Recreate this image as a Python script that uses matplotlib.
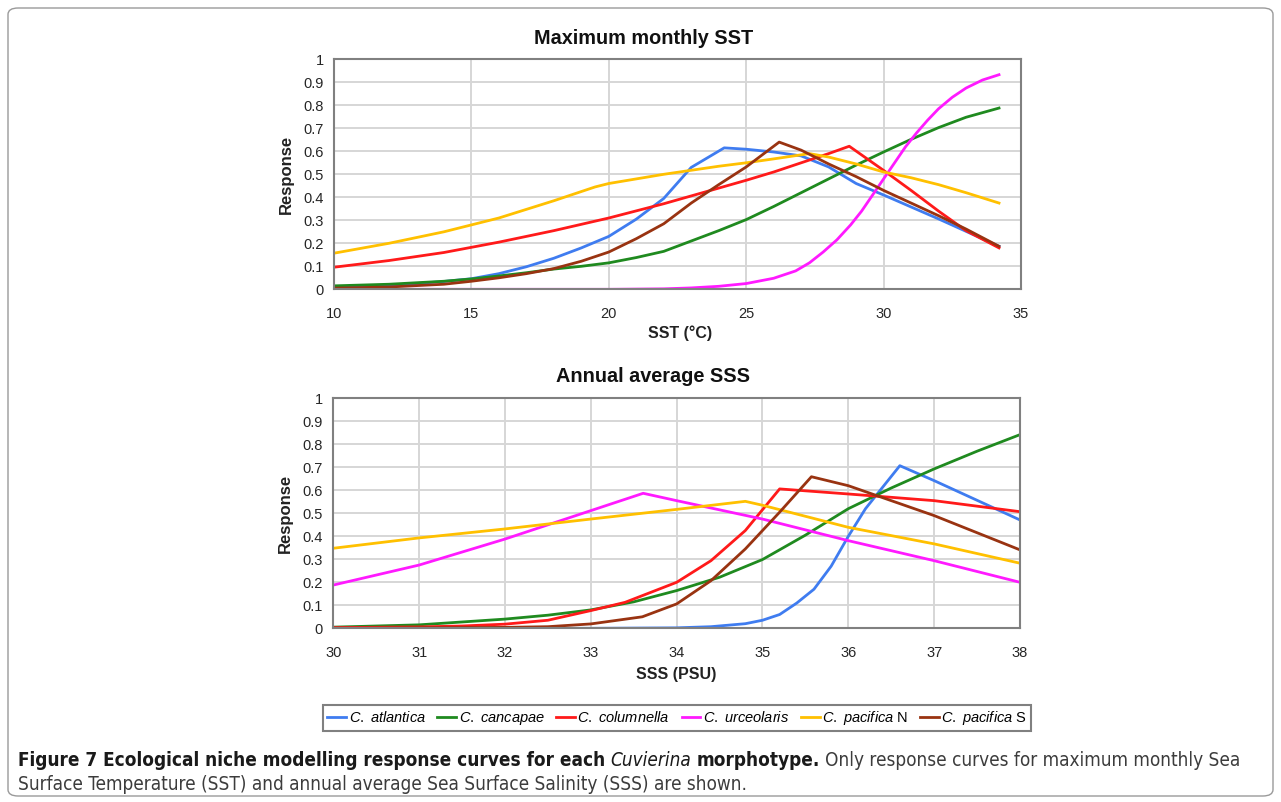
import matplotlib
matplotlib.use('Agg')
import matplotlib.pyplot as plt
from matplotlib.patches import FancyBboxPatch
from matplotlib import font_manager

# ---- datos ----
# SST (maximo mensual)
sst_atl_x = [10, 11, 12, 13, 14, 15, 16, 17, 18, 19, 20, 21, 22, 23, 24.2, 25, 26, 27, 28, 29, 30, 31, 32, 33, 34.2]
sst_atl_y = [0.01, 0.013, 0.018, 0.025, 0.034, 0.046, 0.068, 0.098, 0.135, 0.18, 0.23, 0.305, 0.395, 0.53, 0.615,
             0.609, 0.597, 0.58, 0.532, 0.46, 0.41, 0.358, 0.306, 0.252, 0.187]
sst_can_x = [10, 12, 14, 15, 16, 17, 18, 19, 20, 21, 22, 23, 24, 25, 26, 27, 28, 29, 30, 31, 32, 33, 34.2]
sst_can_y = [0.015, 0.022, 0.035, 0.045, 0.058, 0.072, 0.088, 0.1, 0.115, 0.138, 0.165, 0.21, 0.255, 0.303, 0.36,
             0.42, 0.48, 0.54, 0.597, 0.652, 0.703, 0.748, 0.788]
sst_col_x = [10, 12, 14, 16, 18, 20, 22, 24, 25, 26, 27, 28, 28.75, 30, 31, 32, 33, 34.2]
sst_col_y = [0.096, 0.125, 0.16, 0.205, 0.255, 0.31, 0.372, 0.44, 0.474, 0.51, 0.55, 0.59, 0.622, 0.517, 0.43,
             0.34, 0.255, 0.18]
sst_urc_x = [10, 20, 22, 23, 24, 25, 26, 26.8, 27.3, 27.8, 28.3, 28.8, 29.2, 29.6, 30, 30.4, 30.8, 31.2, 31.6,
             32, 32.5, 33, 33.6, 34.2]
sst_urc_y = [0.0, 0.0, 0.002, 0.006, 0.013, 0.025, 0.048, 0.08, 0.115, 0.162, 0.215, 0.28, 0.34, 0.41, 0.48,
             0.55, 0.62, 0.68, 0.735, 0.785, 0.835, 0.875, 0.91, 0.933]
sst_pacN_x = [10, 12, 14, 16, 18, 19.5, 20, 22, 24, 25, 26, 27.3, 28, 29, 30, 31, 32, 33, 34.2]
sst_pacN_y = [0.157, 0.2, 0.25, 0.31, 0.385, 0.445, 0.46, 0.5, 0.535, 0.55, 0.567, 0.59, 0.575, 0.545, 0.51,
              0.485, 0.455, 0.42, 0.375]
sst_pacS_x = [10, 12, 14, 15, 16, 17, 18, 19, 20, 21, 22, 23, 24, 25, 26.2, 27, 28, 29, 30, 31, 32, 33, 34.2]
sst_pacS_y = [0.005, 0.01, 0.022, 0.035, 0.05, 0.068, 0.09, 0.122, 0.162, 0.22, 0.285, 0.375, 0.455, 0.532, 0.64,
              0.605, 0.545, 0.49, 0.43, 0.375, 0.32, 0.262, 0.187]

# SSS (promedio anual)
sss_atl_x = [30, 33, 34, 34.4, 34.8, 35.0, 35.2, 35.4, 35.6, 35.8, 35.9, 36.0, 36.2, 36.6, 37, 38]
sss_atl_y = [0.0, 0.0, 0.002, 0.007, 0.02, 0.035, 0.06, 0.11, 0.17, 0.27, 0.335, 0.4, 0.52, 0.707, 0.642, 0.471]
sss_can_x = [30, 31, 32, 32.5, 33, 33.5, 34, 34.5, 35, 35.5, 36, 36.5, 37, 37.5, 38]
sss_can_y = [0.005, 0.015, 0.04, 0.057, 0.08, 0.115, 0.164, 0.222, 0.299, 0.405, 0.52, 0.61, 0.693, 0.77, 0.842]
sss_col_x = [30, 31, 31.5, 32, 32.5, 33, 33.4, 34, 34.4, 34.8, 35.2, 36, 37, 38]
sss_col_y = [0.003, 0.006, 0.01, 0.018, 0.035, 0.077, 0.113, 0.2, 0.294, 0.425, 0.606, 0.584, 0.555, 0.507]
sss_urc_x = [30, 31, 32, 33.61, 34, 35, 36, 37, 38]
sss_urc_y = [0.188, 0.275, 0.388, 0.587, 0.555, 0.475, 0.381, 0.294, 0.2]
sss_pacN_x = [30, 31, 32, 33, 34, 34.8, 35, 36, 37, 38]
sss_pacN_y = [0.348, 0.393, 0.432, 0.475, 0.517, 0.552, 0.535, 0.439, 0.367, 0.283]
sss_pacS_x = [30, 31, 32, 32.5, 33, 33.6, 34, 34.4, 34.8, 35.2, 35.57, 36, 37, 38]
sss_pacS_y = [0.0, 0.002, 0.004, 0.007, 0.019, 0.05, 0.106, 0.207, 0.345, 0.505, 0.659, 0.62, 0.49, 0.341]

nombres = ['C. atlantica', 'C. cancapae', 'C. columnella', 'C. urceolaris', 'C. pacifica', 'C. pacifica']
sufijos = ['', '', '', '', ' N', ' S']
colores = ['#3f7cf0', '#1f8a1f', '#ff1a1a', '#ff1aff', '#ffc000', '#993311']

sst_series = [(sst_atl_x, sst_atl_y), (sst_can_x, sst_can_y), (sst_col_x, sst_col_y),
              (sst_urc_x, sst_urc_y), (sst_pacN_x, sst_pacN_y), (sst_pacS_x, sst_pacS_y)]
sss_series = [(sss_atl_x, sss_atl_y), (sss_can_x, sss_can_y), (sss_col_x, sss_col_y),
              (sss_urc_x, sss_urc_y), (sss_pacN_x, sss_pacN_y), (sss_pacS_x, sss_pacS_y)]

y_ticks = [0, 0.1, 0.2, 0.3, 0.4, 0.5, 0.6, 0.7, 0.8, 0.9, 1]
y_labels = ['0', '0.1', '0.2', '0.3', '0.4', '0.5', '0.6', '0.7', '0.8', '0.9', '1']

# ---- fuentes: buscar una variante estrecha si existe ----
fuente_estrecha, estiramiento = 'Liberation Sans', 'normal'
for f in font_manager.fontManager.ttflist:
    if 'Narrow' in f.name or 'Condensed' in f.name:
        fuente_estrecha, estiramiento = f.name, f.stretch
        break
    if str(f.stretch) in ('condensed', 'semi-condensed') and f.name in ('DejaVu Sans', 'Open Sans', 'Roboto', 'Noto Sans'):
        fuente_estrecha, estiramiento = f.name, f.stretch
        break

plt.rcParams['font.family'] = 'Liberation Sans'
plt.rcParams['mathtext.fontset'] = 'custom'
plt.rcParams['mathtext.it'] = 'Liberation Sans:italic'
plt.rcParams['mathtext.rm'] = 'Liberation Sans'

W, H = 1281, 802
fig = plt.figure(figsize=(W / 100, H / 100), dpi=100)


def caja(l, t, r, b):
    # convierte pixeles (origen arriba-izquierda) a fraccion de figura
    return [l / W, 1 - b / H, (r - l) / W, (b - t) / H]


def armar_eje(rect, series, xlim, xticks):
    ax = fig.add_axes(rect)
    for (xs, ys), c in zip(series, colores):
        ax.plot(xs, ys, color=c, lw=2.0)
    ax.set_xlim(*xlim)
    ax.set_ylim(0, 1)
    ax.set_xticks(xticks)
    ax.set_yticks(y_ticks)
    ax.set_yticklabels(y_labels)
    ax.grid(True, color='#d6d6d6', lw=1.4)
    ax.set_axisbelow(True)
    for s in ax.spines.values():
        s.set_color('#808080')
        s.set_linewidth(1.5)
    ax.tick_params(axis='both', length=0, labelsize=10.5, colors='#262626')
    ax.tick_params(axis='x', pad=12.5)
    ax.tick_params(axis='y', pad=7.5)
    return ax


ax1 = armar_eje(caja(334, 59.3, 1021, 289.3), sst_series, (10, 35), [10, 15, 20, 25, 30, 35])
ax1.set_ylabel('Response', fontsize=12, fontweight='bold', color='#222222')
ax1.yaxis.set_label_coords(-0.059, 0.5)
ax1.set_xlabel('SST (°C)', fontsize=11.5, fontweight='bold', color='#222222')
ax1.xaxis.set_label_coords(0.504, -0.155)

ax2 = armar_eje(caja(333.3, 398.3, 1020, 628.3), sss_series, (30, 38), [30, 31, 32, 33, 34, 35, 36, 37, 38])
ax2.set_ylabel('Response', fontsize=12, fontweight='bold', color='#222222')
ax2.yaxis.set_label_coords(-0.059, 0.5)
ax2.set_xlabel('SSS (PSU)', fontsize=11.5, fontweight='bold', color='#222222')
ax2.xaxis.set_label_coords(0.5, -0.168)

fig.text(644 / W, 1 - 39 / H, 'Maximum monthly SST', fontsize=14.3, fontweight='bold',
         ha='center', va='center', color='#111111')
fig.text(653 / W, 1 - 376 / H, 'Annual average SSS', fontsize=14.3, fontweight='bold',
         ha='center', va='center', color='#111111')

# leyenda comun (nombre en cursiva, sufijo N/S normal)
etiquetas = [' '.join(r'$\mathit{' + p + '}$' for p in n.split(' ')) + s for n, s in zip(nombres, sufijos)]
ley = fig.legend(ax1.get_lines(), etiquetas, loc='center', bbox_to_anchor=(677 / W, 1 - 718 / H),
                 ncol=6, prop={'family': 'Liberation Sans', 'size': 10.5},
                 frameon=True, fancybox=False, framealpha=1, edgecolor='#808080',
                 handlelength=1.3, handletextpad=0.15, columnspacing=0.8, borderpad=0.3)
ley.get_frame().set_linewidth(1.5)

# marco redondeado de toda la figura
marco = FancyBboxPatch((8 / W, 6 / H), 1265 / W, 788 / H, boxstyle='round,pad=0,rounding_size=0.008',
                       transform=fig.transFigure, fill=False, edgecolor='#9a9a9a', lw=1.0)
fig.patches.append(marco)

# pie de figura con estilos mezclados
negro, gris = '#1a1a1a', '#3c3c3c'
linea1 = [('Figure 7 Ecological niche modelling response curves for each', 'bold', 'normal', negro),
          ('Cuvierina', 'normal', 'italic', negro),
          ('morphotype.', 'bold', 'normal', negro),
          ('Only response curves for maximum monthly Sea', 'normal', 'normal', gris)]
linea2 = [('Surface Temperature (SST) and annual average Sea Surface Salinity (SSS) are shown.',
           'normal', 'normal', gris)]


def escribir(piezas, x_px, y_px, tam):
    r = fig.canvas.get_renderer()
    hechos = []
    for txt, wt, st, col in piezas:
        t = fig.text(x_px / W, 1 - y_px / H, txt, fontsize=tam, fontweight=wt, fontstyle=st,
                     color=col, family=fuente_estrecha, fontstretch=estiramiento, ha='left', va='center')
        bb = t.get_window_extent(r)
        x_px = bb.x1 + tam * 0.27 * 100 / 72
        hechos.append(t)
    return hechos, x_px


# ajustar tamano para que la primera linea ocupe lo mismo que en el original
prueba, fin = escribir(linea1, 18, 760, 12)
ancho = fin - 18 - 12 * 0.27 * 100 / 72
for t in prueba:
    t.remove()
tam_pie = 12 * 1219 / ancho
escribir(linea1, 18, 760, tam_pie)
escribir(linea2, 18, 785, tam_pie)

fig.savefig('out.png', dpi=100)
